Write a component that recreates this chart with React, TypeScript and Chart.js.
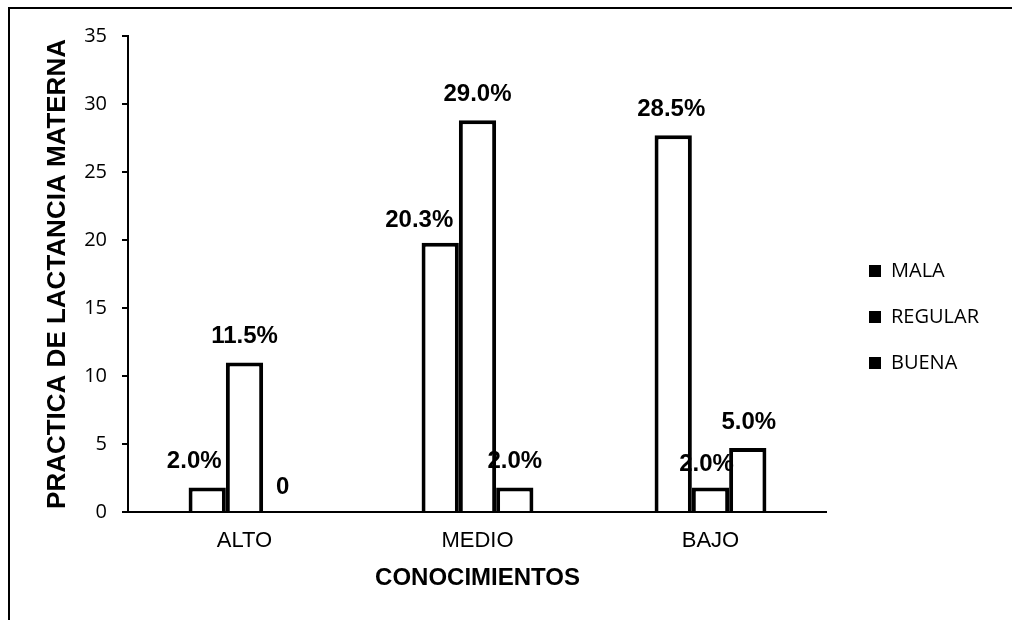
import React, { useEffect, useRef } from "react";
import { Chart, registerables } from "chart.js";

Chart.register(...registerables);

const categories = ["ALTO", "MEDIO", "BAJO"];
const seriesNames = ["MALA", "REGULAR", "BUENA"];
const malaValues = [1.8, 19.8, 27.7];
const regularValues = [11.0, 28.8, 1.8];
const buenaValues = [0, 1.8, 4.7];
const malaLabels = ["2.0%", "20.3%", "28.5%"];
const regularLabels = ["11.5%", "29.0%", "2.0%"];
const buenaLabels = ["0", "2.0%", "5.0%"];
const yTicks = [0, 5, 10, 15, 20, 25, 30, 35];
const yTitle = "PRACTICA DE LACTANCIA MATERNA";
const xTitle = "CONOCIMIENTOS";

const seriesLabels = [malaLabels, regularLabels, buenaLabels];
const labelDx = [
  [-13, -21, -2],
  [0, 0, -4],
  [1, 0, 1],
];
const labelDy = [
  [0, 4, 0],
  [0, 0, 3],
  [1, 0, 0],
];

const valueLabelPlugin = {
  id: "valueLabels",
  afterDatasetsDraw(chart: any) {
    const ctx = chart.ctx;
    ctx.save();
    ctx.font = "bold 24px 'Liberation Sans', Arial, sans-serif";
    ctx.fillStyle = "#000";
    ctx.textAlign = "center";
    ctx.textBaseline = "middle";
    chart.data.datasets.forEach((ds: any, i: number) => {
      const meta = chart.getDatasetMeta(i);
      meta.data.forEach((el: any, j: number) => {
        const txt = seriesLabels[i][j];
        ctx.fillText(txt, el.x + labelDx[i][j], el.y - 26 + labelDy[i][j]);
      });
    });
    ctx.restore();
  },
};

export default function App() {
  const ref = useRef<HTMLCanvasElement | null>(null);

  useEffect(() => {
    if (!ref.current) return;
    const values = [malaValues, regularValues, buenaValues];
    const chart = new Chart(ref.current, {
      type: "bar",
      data: {
        labels: categories,
        datasets: seriesNames.map((name, i) => ({
          label: name,
          data: values[i],
          backgroundColor: "#ffffff",
          borderColor: "#000000",
          borderWidth: 4,
          borderSkipped: "start",
          inflateAmount: 0,
          categoryPercentage: 0.48,
          barPercentage: 1.0,
        })),
      },
      options: {
        animation: false,
        responsive: true,
        maintainAspectRatio: false,
        layout: { padding: { left: 28, top: 27, right: 23, bottom: 22 } },
        plugins: {
          tooltip: { enabled: false },
          legend: {
            position: "right",
            align: "center",
            labels: {
              boxWidth: 12,
              boxHeight: 12,
              padding: 26,
              color: "#000",
              font: { family: "'Open Sans', sans-serif", size: 20 },
              generateLabels: (c: any) =>
                c.data.datasets.map((ds: any, i: number) => ({
                  text: ds.label,
                  fillStyle: "#000",
                  strokeStyle: "#000",
                  lineWidth: 0,
                  hidden: false,
                  datasetIndex: i,
                  fontColor: "#000",
                })),
            },
          },
        },
        scales: {
          x: {
            grid: { display: false, drawTicks: false },
            border: { display: true, color: "#000", width: 2 },
            ticks: {
              color: "#000",
              padding: 16,
              font: { family: "'Liberation Sans', Arial, sans-serif", size: 22 },
            },
            title: {
              display: true,
              text: xTitle,
              color: "#000",
              padding: { top: 4, bottom: 5.6 },
              font: { family: "'Liberation Sans', Arial, sans-serif", size: 24, weight: "bold" },
            },
            afterFit: (s: any) => {
              s.height = 86;
            },
          },
          y: {
            min: 0,
            max: 35,
            afterBuildTicks: (s: any) => {
              s.ticks = yTicks.map((v) => ({ value: v }));
            },
            grid: {
              drawOnChartArea: false,
              drawTicks: true,
              tickLength: 6,
              color: "#000",
              lineWidth: 2,
            },
            border: { display: true, color: "#000", width: 2 },
            ticks: {
              color: "#000",
              padding: 15,
              font: { family: "'Open Sans', sans-serif", size: 20 },
            },
            title: {
              display: true,
              text: yTitle,
              color: "#000",
              padding: { top: 4, bottom: 4 },
              font: { family: "'Liberation Sans', Arial, sans-serif", size: 26, weight: "bold" },
            },
            afterFit: (s: any) => {
              s.width = 90;
            },
          },
          y2: {
            position: "right",
            min: 0,
            max: 1,
            grid: { display: false, drawTicks: false },
            border: { display: false },
            ticks: { display: false },
            afterFit: (s: any) => {
              s.width = 16;
            },
          },
        },
      },
      plugins: [valueLabelPlugin],
    } as any);
    return () => chart.destroy();
  }, []);

  return (
    <div
      style={{
        position: "fixed",
        left: 8,
        top: 7,
        borderTop: "2px solid #000",
        borderLeft: "2px solid #000",
        width: 1002,
        height: 611,
        background: "#fff",
      }}
    >
      <canvas ref={ref} />
    </div>
  );
}
